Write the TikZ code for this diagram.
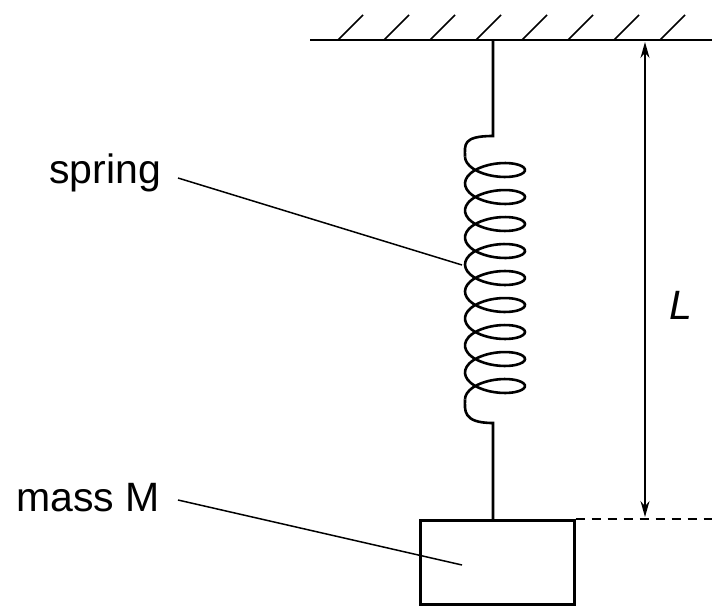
\documentclass[tikz,border=0pt]{standalone}
\usepackage{fontspec}
\setmainfont{Liberation Sans}
\usetikzlibrary{arrows.meta}
\begin{document}
\begin{tikzpicture}[x=1pt,y=-1pt,line width=2.6pt,
  lbl/.style={font=\fontsize{41}{44}\selectfont,inner sep=0pt},
  lead/.style={line width=1.5pt}]
\useasboundingbox (0,0) rectangle (720,613);
% ceiling
\draw (310,40) -- (712,40);
\foreach \i in {0,...,7}{\draw[line width=1.6pt] (338+\i*46,40) -- (363+\i*46,15);}
% wire and spring
\coordinate (top) at (493,40);
\coordinate (s1) at (493,136);
\coordinate (s2) at (493,423);
\coordinate (mtop) at (493,519);
\draw (top) -- (s1) .. controls (462,136) and (465,145) .. (465,156.5);
\draw[smooth,samples=300,domain=-180:3060,variable=\t]
  plot ({495+30*cos(\t)},{170+\t/360*27-13*sin(\t)});
\draw (465,399.5) .. controls (465,410) and (462,423) .. (s2) -- (mtop);
% mass
\node[draw,minimum width=154pt,minimum height=84pt,inner sep=0pt,anchor=north west] (box) at (419,519) {};
\draw[dash pattern=on 9pt off 7pt,line width=1.5pt] (box.north east) -- (712,519);
% L arrow
\coordinate (a1) at (645,42);
\coordinate (a2) at (645,517);
\draw[lead,{Stealth[length=16pt,width=9pt]}-{Stealth[length=16pt,width=9pt]}] (a1) -- (a2);
\node[lbl,font=\fontsize{41}{44}\selectfont\itshape] (L) at (681,305) {L};
% labels
\node[lbl] (spring) at (105,173) {spring};
\coordinate (sp) at (462,265);
\draw[lead] (178,178) -- (sp);
\node[lbl] (mass) at (88,498) {mass M};
\coordinate (mp) at (462,565);
\draw[lead] (178,500) -- (mp);
\end{tikzpicture}
\end{document}
